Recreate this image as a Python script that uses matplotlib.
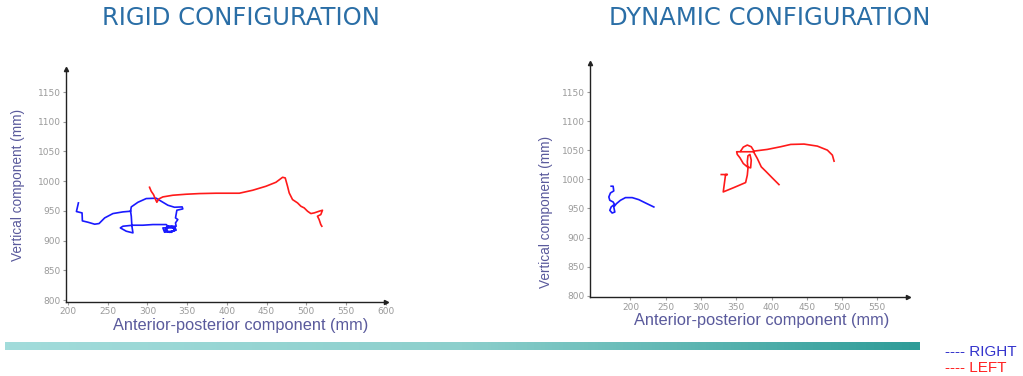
import numpy as np
import matplotlib
matplotlib.use("Agg")
import matplotlib.pyplot as plt
from matplotlib.colors import LinearSegmentedColormap

nan = np.nan

# rigid configuration (left panel), values in mm
rigid_right_x = [213.0, 210.5, 217.6, 218.0, 225.1, 233.5, 239.0, 246.1, 256.5, 269.1, 278.7,
                 279.6, 288.0, 298.4, 311.0, 317.3, 325.7, 334.0, 343.7, 344.5, 337.0, 335.3,
                 338.2, 335.3, 336.1, 331.9, 319.4, 321.5, 329.8, 336.1, 334.0, 326.0, 333.0,
                 334.0, 328.0, 322.0, 324.0, 331.0, 335.0, 330.0, 324.0, 325.7, 323.6, 306.8,
                 294.2, 281.7, 269.1, 265.8, 273.3, 281.7, 280.4, 279.6, 278.7]
rigid_right_y = [963.5, 949.0, 946.7, 933.3, 931.0, 927.7, 928.8, 938.3, 945.6, 948.4, 949.5,
                 956.8, 964.6, 970.8, 971.4, 966.3, 959.6, 956.2, 956.8, 953.4, 951.2, 938.3,
                 935.5, 929.9, 924.3, 921.5, 921.5, 914.2, 915.9, 917.6, 924.3, 924.0, 922.0,
                 917.0, 914.0, 917.0, 923.0, 924.0, 919.0, 914.0, 916.0, 924.3, 927.1, 927.1,
                 926.0, 926.0, 924.3, 921.5, 915.9, 913.1, 924.3, 941.1, 949.5]
rigid_left_x = [302.6, 304.7, 307.6, 310.2, 311.8, 314.3, 319.4, 331.9, 348.7, 365.4, 386.4,
                415.7, 432.5, 449.2, 461.8, 470.2, 473.5, 476.4, 478.5, 482.7, 489.0, 493.2,
                497.4, 501.6, 505.8, 510.0, 516.2, 520.4, 518.3, 514.1, 516.2, 518.3, 519.6]
rigid_left_y = [989.8, 983.1, 977.5, 969.1, 964.6, 970.2, 973.6, 976.4, 978.1, 979.2, 979.8,
                979.8, 984.8, 991.5, 998.2, 1006.6, 1005.5, 991.5, 980.3, 969.1, 963.5, 957.9,
                955.1, 949.5, 945.6, 946.7, 949.5, 951.2, 943.9, 941.1, 935.5, 927.1, 924.3]

# dynamic configuration (right panel)
dynamic_right_x = [172.6, 175.4, 176.3, 171.6, 169.3, 170.7, 175.4, 177.3, 172.6, 170.7, 174.0,
                   177.8, 176.3, 180.1, 185.8, 192.9, 202.4, 211.8, 221.3, 233.1]
dynamic_right_y = [988.3, 988.3, 980.2, 976.7, 969.8, 964.1, 961.2, 957.2, 952.6, 946.8, 942.2,
                   943.9, 952.6, 958.3, 964.1, 968.7, 968.7, 965.2, 959.5, 952.6]
dynamic_left_x = [328.7, 337.2, 334.8, 331.5, 346.6, 363.2, 365.6, 366.5, 365.6, 366.5, 369.3,
                  371.2, 370.3, 365.6, 359.9, 355.2, 351.4, 350.5, 375.0, nan,
                  356.1, 359.9, 365.6, 371.2, 375.0, 393.9, 412.8, 427.1, 446.0, 464.9, 479.1,
                  486.2, 488.6, nan,
                  375.0, 379.8, 385.4, 391.6, 401.0, 410.5]
dynamic_left_y = [1008.4, 1008.4, 1008.4, 978.5, 986.0, 994.6, 1007.3, 1018.8, 1030.3, 1040.6,
                  1043.0, 1033.2, 1019.9, 1021.6, 1027.4, 1037.2, 1043.0, 1047.6, 1047.6, nan,
                  1048.7, 1055.6, 1059.1, 1056.2, 1048.7, 1051.6, 1056.2, 1060.2, 1060.8, 1057.3,
                  1050.4, 1041.8, 1031.4, nan,
                  1046.4, 1036.0, 1021.6, 1014.2, 1002.6, 991.1]

y_ticks = [800, 850, 900, 950, 1000, 1050, 1100, 1150]
rigid_x_ticks = [200, 250, 300, 350, 400, 450, 500, 550, 600]
dynamic_x_ticks = [200, 250, 300, 350, 400, 450, 500, 550]

BLUE = '#1a1aff'
RED = '#ff1a1a'
LABEL_C = '#5a5a9c'
TICK_C = '#9a9a9a'
TITLE_C = '#2a6ea6'
ARIAL = ['Liberation Sans', 'DejaVu Sans']

fig = plt.figure(figsize=(10.23, 3.76), dpi=100)


def setup(ax, xticks, xlim, ylim, xlab_pos, ylab_pos):
    ax.set_xlim(*xlim)
    ax.set_ylim(*ylim)
    for s in ['top', 'right']:
        ax.spines[s].set_visible(False)
    for s in ['left', 'bottom']:
        ax.spines[s].set_linewidth(1.0)
        ax.spines[s].set_color('#222222')
    ax.set_xticks(xticks)
    ax.set_yticks(y_ticks)
    ax.tick_params(labelsize=6.5, colors=TICK_C, length=2, pad=2)
    ax.plot(1, 0, '>', color='#222222', ms=3, transform=ax.transAxes, clip_on=False)
    ax.plot(0, 1, '^', color='#222222', ms=3, transform=ax.transAxes, clip_on=False)
    ax.set_xlabel('Anterior-posterior component (mm)', fontsize=11.8, color=LABEL_C,
                  family=ARIAL)
    ax.set_ylabel('Vertical component (mm)', fontsize=9.8, color=LABEL_C, family=ARIAL)
    ax.xaxis.set_label_coords(*xlab_pos)
    ax.yaxis.set_label_coords(*ylab_pos)


ax1 = fig.add_axes([0.065, 0.197, 0.312, 0.62])
setup(ax1, rigid_x_ticks, (198, 600), (797, 1189), (0.545, -0.07), (-0.13, 0.5))
ax1.plot(rigid_right_x, rigid_right_y, color=BLUE, lw=1.2)
ax1.plot(rigid_left_x, rigid_left_y, color=RED, lw=1.2)

ax2 = fig.add_axes([0.577, 0.209, 0.311, 0.623])
setup(ax2, dynamic_x_ticks, (143, 594), (797, 1200), (0.54, -0.065), (-0.118, 0.365))
ax2.plot(dynamic_right_x, dynamic_right_y, color=BLUE, lw=1.2)
ax2.plot(dynamic_left_x, dynamic_left_y, color=RED, lw=1.2)

fig.text(241 / 1023, 1 - 18 / 376, 'RIGID CONFIGURATION', fontsize=17.5, color=TITLE_C,
         ha='center', va='center')
fig.text(770 / 1023, 1 - 18 / 376, 'DYNAMIC CONFIGURATION', fontsize=17.5, color=TITLE_C,
         ha='center', va='center')

# gradient bar along the bottom
bar = fig.add_axes([5 / 1023, 1 - 350 / 376, 915 / 1023, 8 / 376])
cmap = LinearSegmentedColormap.from_list('teal', ['#a2dcdb', '#8ccfcc', '#2e9c98'])
bar.imshow(np.linspace(0, 1, 256)[None, :], aspect='auto', cmap=cmap)
bar.axis('off')

fig.text(945 / 1023, 1 - 352 / 376, '---- RIGHT', fontsize=11, color='#3333cc',
         va='center', family=ARIAL)
fig.text(945 / 1023, 1 - 368 / 376, '---- LEFT', fontsize=11, color='#ff2222',
         va='center', family=ARIAL)

fig.savefig('out.png', dpi=100)
